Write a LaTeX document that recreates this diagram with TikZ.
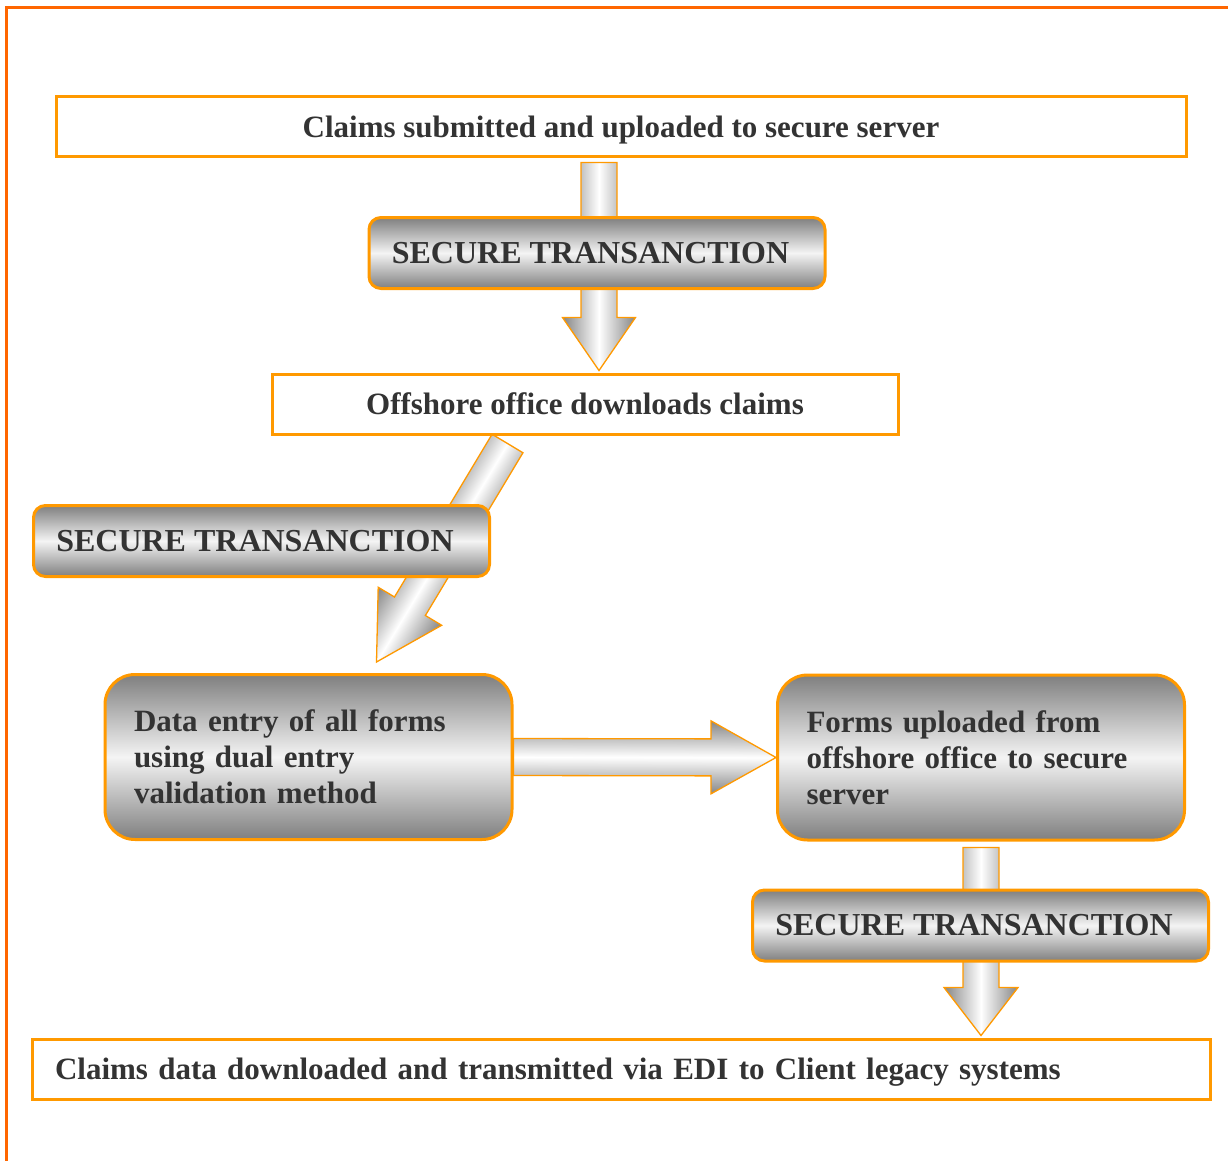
\documentclass[tikz,border=0pt]{standalone}
\usepackage{fontspec}
\setmainfont{Liberation Serif}
\usetikzlibrary{calc}
\pgfdeclarelayer{background}
\pgfsetlayers{background,main}
\definecolor{frameor}{HTML}{FF6600}
\definecolor{boxor}{HTML}{FF9900}
\definecolor{txt}{HTML}{333333}
\definecolor{shadegray}{HTML}{7F7F7F}
\definecolor{arrgray}{HTML}{858585}
\definecolor{light}{HTML}{F4F4F4}

% block arrow: start, tip, shaft half width, head half width, head length (pt)
\newcommand\blockarrow[5]{%
  \path let \p1=(#1), \p2=(#2) in \pgfextra{%
    \pgfmathsetmacro\baL{veclen(\x2-\x1,\y2-\y1)}%
    \pgfmathsetmacro\baA{atan2(\y2-\y1,\x2-\x1)}%
    \pgfmathsetmacro\baN{\baL-#5}%
    \xdef\baLen{\baL}\xdef\baAng{\baA}\xdef\baNeck{\baN}%
    \xdef\baX{\x1}\xdef\baY{\y1}};
  \begin{scope}[transform canvas={shift={(\baX,\baY)},rotate=\baAng}]
    \shade[arrowshade] (0pt,#3pt) -- (\baNeck pt,#3pt) -- (\baNeck pt,#4pt)
      -- (\baLen pt,0pt) -- (\baNeck pt,-#4pt) -- (\baNeck pt,-#3pt)
      -- (0pt,-#3pt) -- cycle;
  \end{scope}}

\begin{document}
\begin{tikzpicture}[x=1pt,y=-1pt,
  arrowshade/.style={top color=arrgray, bottom color=arrgray, middle color=white,
    draw=boxor, line width=1.3pt, line join=miter},
  plainbox/.style={draw=boxor, line width=3pt, fill=white, text=txt,
    font=\fontsize{31}{36}\selectfont\bfseries, inner sep=0pt, minimum height=60,
    text depth=1pt},
  stbox/.style={draw=boxor, line width=3pt, rounded corners=12pt,
    top color=shadegray, bottom color=shadegray, middle color=light,
    text=txt, font=\fontsize{32}{36}\selectfont\bfseries,
    minimum width=456, minimum height=71, inner sep=0pt},
  bigbox/.style={draw=boxor, line width=3pt, rounded corners=30pt,
    top color=shadegray, bottom color=shadegray, middle color=light,
    text=txt, font=\fontsize{31}{36}\selectfont\bfseries,
    text width=349, inner xsep=29, inner ysep=0pt, align=left, minimum height=165}]
\useasboundingbox (0,0) rectangle (1228,1161);
\draw[frameor, line width=3pt] (6,1161) -- (6,8) -- (1228,8);

\node[plainbox, minimum width=1130] (top) at (621,127) {Claims submitted and uploaded to secure server};
\node[stbox] (st1) at (597,253) {SECURE TRANSANCTION\kern13pt};
\node[plainbox, minimum width=626] (off) at (585,404) {Offshore office downloads claims};
\node[stbox] (st2) at (261.5,541) {SECURE TRANSANCTION\kern13pt};
\node[bigbox] (data) at (308.5,757) {Data entry of all forms\\using dual entry\\validation method};
\node[bigbox] (forms) at (981,757.5) {Forms uploaded from\\offshore office to secure\\server};
\node[stbox] (st3) at (980.5,925.5) {SECURE TRANSANCTION\kern13pt};
\node[plainbox, text width=1132, inner xsep=23, align=left] (last) at (621,1069) {Claims data downloaded and transmitted via EDI to Client legacy systems};

\coordinate (a1s) at ($(top.south -| st1.north)+(2,4)$);
\coordinate (a1e) at ($(off.north -| st1.south)+(2,-2)$);
\coordinate (a2s) at ($(off.south)+(-77.5,8)$);
\coordinate (a2e) at ($(data.north west)+(273,-11)$);
\coordinate (a4s) at ($(forms.south)+(0,6)$);
\coordinate (a4e) at ($(forms.south |- last.north)+(0,-2)$);

\begin{pgfonlayer}{background}
  \blockarrow{a1s}{a1e}{18}{36.5}{53}
  \blockarrow{a2s}{a2e}{18}{37}{65}
  \blockarrow{data.east}{forms.west}{18.5}{36.5}{65}
  \blockarrow{a4s}{a4e}{18}{37}{48}
\end{pgfonlayer}
\end{tikzpicture}
\end{document}
